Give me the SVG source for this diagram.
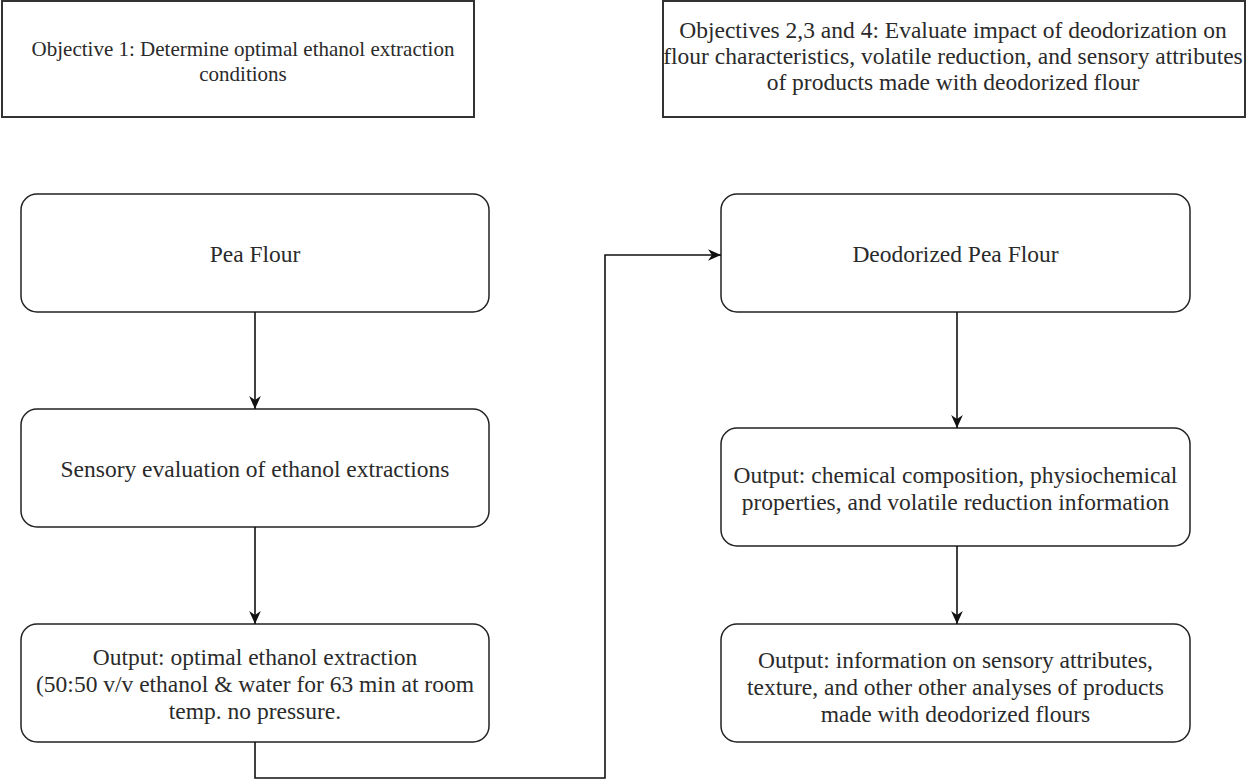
<svg xmlns="http://www.w3.org/2000/svg" width="1247" height="782" viewBox="0 0 1247 782">
<style>
.obj{fill:#fff;stroke:#333;stroke-width:2}
.box{fill:#fff;stroke:#222;stroke-width:1.5}
.t{fill:#2a2a2a;text-anchor:middle}
.c{fill:none;stroke:#111;stroke-width:1.6}
</style>
<defs>
<marker id="ah" viewBox="0 0 10 10" refX="10" refY="5" markerWidth="13" markerHeight="13" markerUnits="userSpaceOnUse" orient="auto">
<path d="M0,0.5 L10,5 L0,9.5 L3,5 z" fill="#111"/>
</marker>
</defs>
<rect width="1247" height="782" fill="#fff"/>
<g font-family="Liberation Serif, Times New Roman, Tinos, FreeSerif" font-size="23.5">
<g id="objective1" font-size="21">
<rect class="obj" x="2" y="1" width="472" height="116"/>
<text class="t" x="243" y="56">Objective 1: Determine optimal ethanol extraction</text>
<text class="t" x="243" y="81">conditions</text>
</g>
<g id="objective234">
<rect class="obj" x="663" y="1" width="582" height="116"/>
<text class="t" x="953" y="38">Objectives 2,3 and 4: Evaluate impact of deodorization on</text>
<text class="t" x="953" y="64">flour characteristics, volatile reduction, and sensory attributes</text>
<text class="t" x="953" y="90">of products made with deodorized flour</text>
</g>
<g id="pea-flour">
<rect class="box" x="21" y="194" width="468" height="118" rx="16"/>
<text class="t" x="255" y="262">Pea Flour</text>
</g>
<g id="sensory-evaluation">
<rect class="box" x="21" y="409" width="468" height="118" rx="16"/>
<text class="t" x="255" y="477">Sensory evaluation of ethanol extractions</text>
</g>
<g id="output-optimal">
<rect class="box" x="21" y="624" width="468" height="118" rx="16"/>
<text class="t" x="255" y="665">Output: optimal ethanol extraction</text>
<text class="t" x="255" y="692">(50:50 v/v ethanol &amp; water for 63 min at room</text>
<text class="t" x="255" y="719">temp. no pressure.</text>
</g>
<g id="deodorized-pea-flour">
<rect class="box" x="721" y="194" width="469" height="118" rx="16"/>
<text class="t" x="955.5" y="262">Deodorized Pea Flour</text>
</g>
<g id="output-chemical">
<rect class="box" x="721" y="428" width="469" height="118" rx="16"/>
<text class="t" x="955.5" y="483">Output: chemical composition, physiochemical</text>
<text class="t" x="955.5" y="510">properties, and volatile reduction information</text>
</g>
<g id="output-sensory">
<rect class="box" x="721" y="624" width="469" height="118" rx="16"/>
<text class="t" x="955.5" y="668">Output: information on sensory attributes,</text>
<text class="t" x="955.5" y="695">texture, and other other analyses of products</text>
<text class="t" x="955.5" y="722">made with deodorized flours</text>
</g>
</g>
<g id="connectors">
<path class="c" d="M255,312 V409" marker-end="url(#ah)"/>
<path class="c" d="M255,527 V624" marker-end="url(#ah)"/>
<path class="c" d="M255,742 V778 H605 V255 H721" marker-end="url(#ah)"/>
<path class="c" d="M957,312 V428" marker-end="url(#ah)"/>
<path class="c" d="M957,546 V624" marker-end="url(#ah)"/>
</g>
</svg>
